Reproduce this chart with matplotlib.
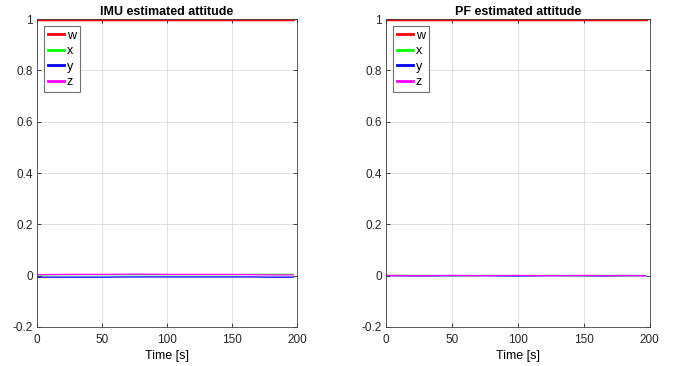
import numpy as np
import matplotlib.pyplot as plt

plt.rcParams['font.family'] = ['Liberation Sans', 'DejaVu Sans']

# Tiempo de muestreo (s)
t = [0, 25, 50, 75, 100, 125, 150, 165, 180, 197]

# IMU: cuaternión estimado
imu_w = [1.0, 1.0, 1.0, 1.0, 1.0, 1.0, 1.0, 1.0, 1.0, 1.0]
imu_x = [0.003, 0.004, 0.004, 0.004, 0.004, 0.004, 0.004, 0.005, 0.005, 0.005]
imu_y = [-0.006, -0.006, -0.006, -0.005, -0.005, -0.005, -0.005, -0.005, -0.006, -0.006]
imu_z = [0.004, 0.005, 0.005, 0.006, 0.005, 0.005, 0.005, 0.004, 0.003, 0.003]

# PF: cuaternión estimado
pf_w = [1.0, 1.0, 1.0, 1.0, 1.0, 1.0, 1.0, 1.0, 1.0, 1.0]
pf_x = [0.001, 0.001, 0.000, 0.001, 0.000, 0.001, 0.000, 0.001, 0.000, 0.001]
pf_y = [0.000, -0.001, 0.000, 0.000, -0.001, 0.000, 0.000, -0.001, 0.000, 0.000]
pf_z = [0.001, 0.000, 0.001, 0.000, 0.001, 0.000, 0.001, 0.000, 0.001, 0.000]

titles = ["IMU estimated attitude", "PF estimated attitude"]
series = [(imu_w, imu_x, imu_y, imu_z), (pf_w, pf_x, pf_y, pf_z)]
colors = ['#ff0000', '#00ff00', '#0000ff', '#ff00ff']
names = ['w', 'x', 'y', 'z']

fig = plt.figure(figsize=(6.83, 3.66), dpi=100)
positions = [[0.054, 0.1066, 0.381, 0.8414], [0.565, 0.1066, 0.386, 0.8414]]

for pos, title, data in zip(positions, titles, series):
    ax = fig.add_axes(pos)
    for vals, c, n in zip(data, colors, names):
        lw = 2.5 if n == 'w' else 0.9
        ax.plot(t, vals, color=c, linewidth=lw, label=n)
    ax.set_xlim(0, 200)
    ax.set_ylim(-0.2, 1)
    ax.set_xticks([0, 50, 100, 150, 200])
    ax.set_yticks([-0.2, 0, 0.2, 0.4, 0.6, 0.8, 1])
    ax.set_yticklabels(['-0.2', '0', '0.2', '0.4', '0.6', '0.8', '1'])
    ax.grid(True, color='#e0e0e0', linewidth=0.7)
    ax.set_axisbelow(True)
    for s in ax.spines.values():
        s.set_color('#404040')
        s.set_linewidth(0.6)
    ax.tick_params(direction='in', length=3, width=0.6, colors='#262626',
                   labelsize=8.5, top=True, right=True)
    ax.tick_params(axis='x', pad=5)
    ax.tick_params(axis='y', pad=3)
    ax.set_title(title, fontsize=9, fontweight='bold', pad=3)
    ax.set_xlabel("Time [s]", fontsize=9, labelpad=3)
    leg = ax.legend(loc='upper left', fontsize=9, fancybox=False, framealpha=1,
                    edgecolor='#707070', handlelength=1.35, handletextpad=0.2,
                    labelspacing=0.28, borderpad=0.3, borderaxespad=0.55)
    for line in leg.get_lines():
        line.set_linewidth(2.0)
    leg.get_frame().set_linewidth(0.8)

plt.savefig("out.png", dpi=100)
